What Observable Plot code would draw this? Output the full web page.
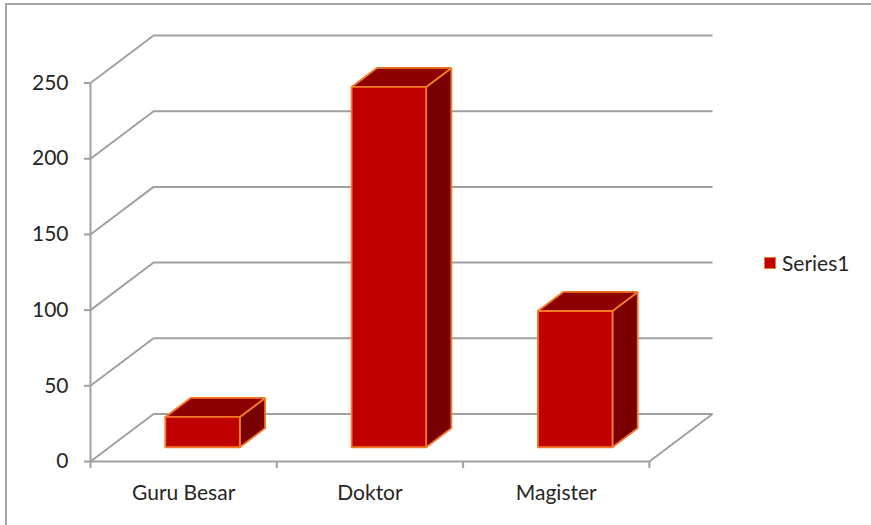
<!DOCTYPE html>
<html>
<head>
<meta charset="utf-8">
<script src="https://cdn.jsdelivr.net/npm/d3@7"></script>
<script src="https://cdn.jsdelivr.net/npm/@observablehq/plot@0.6"></script>
<style>
  html, body { margin: 0; padding: 0; background: #fff; }
  #wrap { position: relative; width: 871px; height: 525px; overflow: hidden; font-family: Lato, "Open Sans", sans-serif; }
  #frame { position: absolute; left: 5px; top: 3px; width: 900px; height: 600px; border-left: 2px solid #a6a6a6; border-top: 2px solid #a6a6a6; box-sizing: border-box; }
  #chart { position: absolute; left: 0; top: 0; }
  #legend { position: absolute; left: 764px; top: 250px; display: flex; align-items: center; font-size: 21px; color: #262626; }
  #legend .sw { width: 10px; height: 10px; background: #c00000; border: 1px solid #f07828; margin-right: 6px; }
</style>
</head>
<body>
<div id="wrap">
  <div id="frame"></div>
  <div id="chart"></div>
  <div id="legend"><span class="sw"></span><span id="legendText"></span></div>
</div>
<script>
// ---- data ----
const categories = ["Guru Besar", "Doktor", "Magister"];
const values = [20, 238, 90];
const seriesName = "Series1";
const yTicks = [0, 50, 100, 150, 200, 250];

document.getElementById("legendText").textContent = seriesName;

// ---- oblique 3D projection (depth expressed in data units) ----
const W = 871, H = 525;
const mL = 90, mR = 159, mT = 35, mB = 64;
const pxPerCat = 186, pxPerVal = 1.512;
const DX = 63 / pxPerCat;     // depth offset along x, in category units
const DY = 47.5 / pxPerVal;   // depth offset along y, in value units
const xMax = categories.length + DX;
const yMax = 250 + DY;

const P = (x, y, d) => ({x: x + d * DX, y: y + d * DY});

// gridlines on side+back walls
const gridPts = [];
for (const v of yTicks) {
  gridPts.push({...P(0, v, 0), g: v});
  gridPts.push({...P(0, v, 1), g: v});
  gridPts.push({...P(categories.length, v, 1), g: v});
}
// floor front & right edges
const floorPts = [
  {...P(0, 0, 0), g: "f"}, {...P(categories.length, 0, 0), g: "f"}, {...P(categories.length, 0, 1), g: "f"}
];

// bars
const bx0 = 0.3, bx1 = 0.7, d0 = 0.3, d1 = 0.7;
const frontPts = [], topPts = [], sidePts = [], shadowPts = [];
categories.forEach((c, i) => {
  const v = values[i];
  const x0 = i + bx0, x1 = i + bx1;
  const f = [P(x0, 0, d0), P(x1, 0, d0), P(x1, v, d0), P(x0, v, d0), P(x0, 0, d0)];
  const t = [P(x0, v, d0), P(x1, v, d0), P(x1, v, d1), P(x0, v, d1), P(x0, v, d0)];
  const s = [P(x1, 0, d0), P(x1, 0, d1), P(x1, v, d1), P(x1, v, d0), P(x1, 0, d0)];
  const sh = [P(x0 - 0.03, 0, d0 - 0.06), P(x1 + 0.08, 0, d0 - 0.06), P(x1 + 0.08, 0, d1 + 0.05), P(x0, 0, d1), P(x0 - 0.03, 0, d0 - 0.06)];
  f.forEach(p => frontPts.push({...p, c}));
  t.forEach(p => topPts.push({...p, c}));
  s.forEach(p => sidePts.push({...p, c}));
  sh.forEach(p => shadowPts.push({...p, c}));
});

const gridColor = "#a0a0a0";
const outline = "#f47a2a";
const font = "Lato, 'Open Sans', sans-serif";

const chart = Plot.plot({
  width: W, height: H,
  marginLeft: mL, marginRight: mR, marginTop: mT, marginBottom: mB,
  style: {fontFamily: font, fontSize: "21px", color: "#262626", background: "transparent"},
  x: {domain: [0, xMax], axis: null, label: null},
  y: {domain: [0, yMax], axis: null, label: null},
  marks: [
    Plot.line(gridPts, {x: "x", y: "y", z: "g", stroke: gridColor, strokeWidth: 2, strokeLinecap: "butt"}),
    Plot.line(floorPts, {x: "x", y: "y", z: "g", stroke: gridColor, strokeWidth: 2, strokeLinecap: "butt"}),
    Plot.ruleX([0], {y1: 0, y2: 250, stroke: gridColor, strokeWidth: 2}),
    Plot.axisY({ticks: yTicks, label: null, tickSize: 6, tickPadding: 16, stroke: gridColor, strokeWidth: 2, fontSize: 21, fill: "#262626", tickFormat: d => String(d)}),
    Plot.axisX({ticks: d3.range(categories.length + 1), label: null, tickSize: 7, tickFormat: () => "", stroke: gridColor, strokeWidth: 2}),
    Plot.text(categories, {x: (d, i) => i + 0.5, y: 0, text: d => d, dy: 32, fontSize: 21, fill: "#262626", lineAnchor: "middle"}),
    Plot.line(shadowPts, {x: "x", y: "y", z: "c", fill: "#b8b8b8", stroke: "none", fillOpacity: 0.7, ariaLabel: "shadow"}),
    Plot.line(sidePts, {x: "x", y: "y", z: "c", fill: "#780000", stroke: outline, strokeWidth: 1.8, strokeLinejoin: "miter"}),
    Plot.line(topPts, {x: "x", y: "y", z: "c", fill: "#8c0000", stroke: outline, strokeWidth: 1.8, strokeLinejoin: "miter"}),
    Plot.line(frontPts, {x: "x", y: "y", z: "c", fill: "#c00000", stroke: outline, strokeWidth: 1.8, strokeLinejoin: "miter"})
  ]
});
document.getElementById("chart").appendChild(chart);
const sh = chart.querySelector('[aria-label="shadow"]');
if (sh) sh.style.filter = "blur(3px)";
</script>
</body>
</html>
